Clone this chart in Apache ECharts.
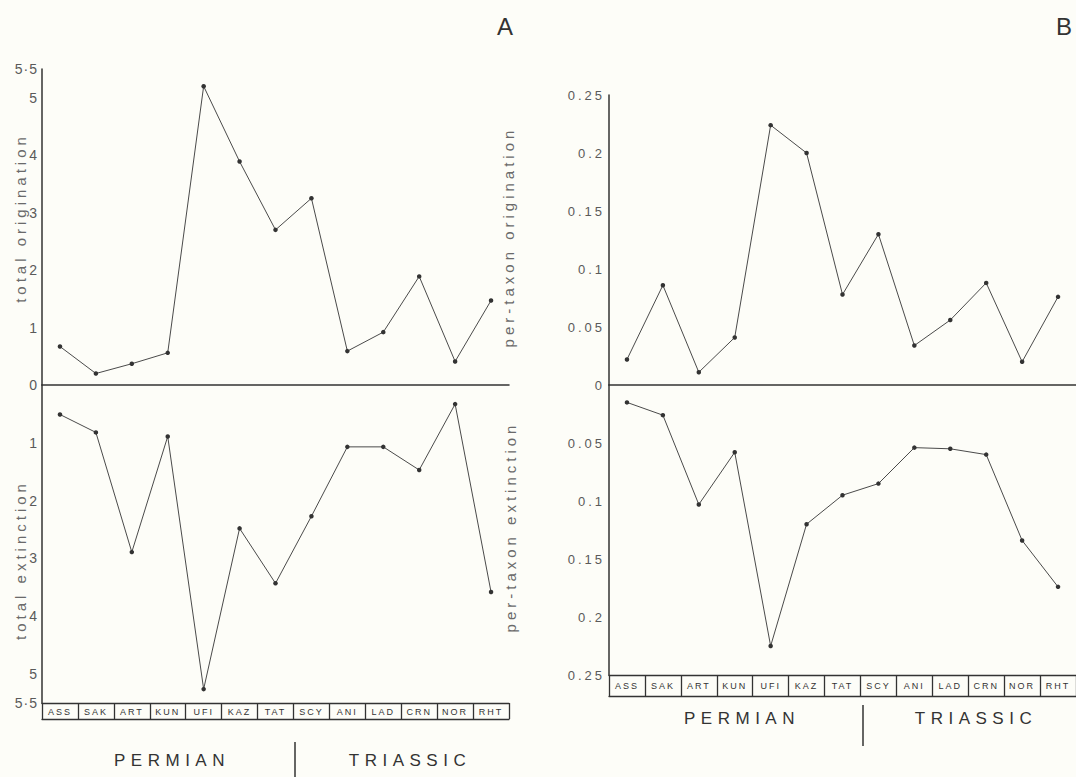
<!DOCTYPE html>
<html>
<head>
<meta charset="utf-8">
<title>Permian-Triassic origination and extinction</title>
<script src="https://cdn.jsdelivr.net/npm/echarts@6/dist/echarts.min.js"></script>
<style>
  html, body { margin: 0; padding: 0; background: #fdfdf8; }
  #chart { width: 1076px; height: 777px; }
  /* the printed figure is letter-spaced; svg renderer lets css do it, keyed on font size */
  #chart text[style*="14px"] { letter-spacing: 1px; }
  #chart text[style*="13px"] { letter-spacing: 3px; }
  #chart text[style*="15px"] { letter-spacing: 4px; }
  #chart text[style*="9px"]  { letter-spacing: 2px; }
  #chart text[style*="17px"] { letter-spacing: 5.5px; }
</style>
</head>
<body>
<div id="chart"></div>
<script>
// stages, oldest to youngest
const stages = ['ASS', 'SAK', 'ART', 'KUN', 'UFI', 'KAZ', 'TAT', 'SCY', 'ANI', 'LAD', 'CRN', 'NOR', 'RHT'];

// A: totals
const totalOrigination = [0.67, 0.20, 0.37, 0.56, 5.20, 3.89, 2.70, 3.25, 0.59, 0.92, 1.89, 0.41, 1.47];
const totalExtinction  = [0.51, 0.82, 2.89, 0.89, 5.26, 2.48, 3.43, 2.27, 1.07, 1.07, 1.47, 0.33, 3.58];

// B: per-taxon rates
const perTaxonOrigination = [0.022, 0.086, 0.011, 0.041, 0.224, 0.200, 0.078, 0.130, 0.034, 0.056, 0.088, 0.020, 0.076];
const perTaxonExtinction  = [0.015, 0.026, 0.103, 0.058, 0.225, 0.120, 0.095, 0.085, 0.054, 0.055, 0.060, 0.134, 0.174];

// tick labels
const totalTicksUp   = [0, 1, 2, 3, 4, 5, 5.5];
const totalTicksDown = [1, 2, 3, 4, 5, 5.5];
const rateTicksUp    = [0, 0.05, 0.1, 0.15, 0.2, 0.25];
const rateTicksDown  = [0.05, 0.1, 0.15, 0.2, 0.25];

const FONT = 'Liberation Sans';
const INK = '#333';
const LINE = '#4a4a4a';
const GREY = '#5a5a5a';

function fmtTotal(v) {
    return v === 5.5 ? '5·5' : String(v);
}
function fmtRate(v) {
    return String(+(+v).toFixed(2));
}

let chartDom = document.getElementById('chart');
let chart = echarts.init(chartDom, null, { renderer: 'svg' });

// y axis builder
function valAxis(grid, max, ticks, fmt, inverse, size) {
    return {
        type: 'value', gridIndex: grid, min: 0, max: max, inverse: inverse,
        axisLine: { show: true, lineStyle: { color: INK, width: 1.5 } },
        axisTick: { show: false },
        splitLine: { show: false },
        axisLabel: {
            customValues: ticks, formatter: fmt, margin: 4,
            color: GREY, fontSize: size, fontFamily: FONT
        }
    };
}

// x axis of the upper half: just the zero line
function zeroAxis(grid) {
    return {
        type: 'category', gridIndex: grid, data: stages, boundaryGap: true,
        axisLine: { show: true, onZero: false, lineStyle: { color: INK, width: 1.5 } },
        axisTick: { show: false },
        axisLabel: { show: false }
    };
}

// x axis of the lower half: the row of boxed stage names
function stageAxis(grid, boxH, margin) {
    return {
        type: 'category', gridIndex: grid, data: stages, boundaryGap: true,
        position: 'bottom',
        axisLine: { show: true, onZero: false, lineStyle: { color: INK, width: 1.3 } },
        axisTick: { show: true, length: boxH, lineStyle: { color: INK, width: 1.3 } },
        axisLabel: {
            interval: 0, margin: margin, color: INK,
            fontSize: 9, fontFamily: FONT, verticalAlign: 'top'
        }
    };
}

// bottom edge of the boxes
function boxFloor(grid, boxH) {
    return {
        type: 'category', gridIndex: grid, data: stages, boundaryGap: true,
        position: 'bottom', offset: boxH,
        axisLine: { show: true, onZero: false, lineStyle: { color: INK, width: 1.3 } },
        axisTick: { show: false },
        axisLabel: { show: false }
    };
}

function lineSeries(idx, data) {
    return {
        type: 'line', xAxisIndex: idx, yAxisIndex: idx, data: data,
        symbol: 'circle', symbolSize: 4.5,
        lineStyle: { color: LINE, width: 1 },
        itemStyle: { color: INK },
        silent: true
    };
}

function vText(x, y, text) {
    return {
        type: 'text', x: x, y: y, rotation: Math.PI / 2,
        style: { text: text, fontSize: 15, fontFamily: FONT, fill: '#6a6a6a', align: 'center', verticalAlign: 'middle' }
    };
}
function periodText(x, y, text) {
    return {
        type: 'text', x: x, y: y,
        style: { text: text, fontSize: 17, fontFamily: FONT, fill: INK, align: 'center', verticalAlign: 'middle' }
    };
}
function divider(x, y1, y2) {
    return { type: 'line', shape: { x1: x, y1: y1, x2: x, y2: y2 }, style: { stroke: INK, lineWidth: 1.5 } };
}

let option = {
    animation: false,
    backgroundColor: '#fdfdf8',
    grid: [
        { left: 42, top: 69, width: 467, height: 316 },   // A up
        { left: 42, top: 385, width: 467, height: 318 },  // A down
        { left: 609, top: 95, width: 468, height: 290 },  // B up
        { left: 609, top: 385, width: 468, height: 290 }  // B down
    ],
    xAxis: [
        zeroAxis(0),
        stageAxis(1, 16, 4),
        zeroAxis(2),
        stageAxis(3, 21, 6),
        boxFloor(1, 16),
        boxFloor(3, 21)
    ],
    yAxis: [
        valAxis(0, 5.5, totalTicksUp, fmtTotal, false, 14),
        valAxis(1, 5.5, totalTicksDown, fmtTotal, true, 14),
        valAxis(2, 0.25, rateTicksUp, fmtRate, false, 13),
        valAxis(3, 0.25, rateTicksDown, fmtRate, true, 13)
    ],
    series: [
        lineSeries(0, totalOrigination),
        lineSeries(1, totalExtinction),
        lineSeries(2, perTaxonOrigination),
        lineSeries(3, perTaxonExtinction)
    ],
    graphic: [
        { type: 'text', x: 505, y: 26, style: { text: 'A', fontSize: 24, fontFamily: FONT, fill: INK, align: 'center', verticalAlign: 'middle' } },
        { type: 'text', x: 1064, y: 26, style: { text: 'B', fontSize: 24, fontFamily: FONT, fill: INK, align: 'center', verticalAlign: 'middle' } },
        vText(20, 218, 'total origination'),
        vText(20, 560, 'total extinction'),
        vText(508, 237, 'per-taxon origination'),
        vText(510, 527, 'per-taxon extinction'),
        periodText(172, 760, 'PERMIAN'),
        periodText(410, 760, 'TRIASSIC'),
        divider(295, 742, 777),
        periodText(742, 718, 'PERMIAN'),
        periodText(976, 718, 'TRIASSIC'),
        divider(863, 705, 746)
    ]
};

chart.setOption(option);
window.addEventListener('resize', () => {
    chart.resize();
});
</script>
</body>
</html>
